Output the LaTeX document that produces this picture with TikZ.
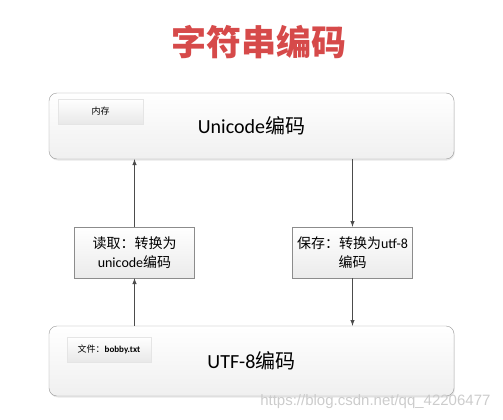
\documentclass[tikz,border=0pt]{standalone}
\usepackage{fontspec}
\setmainfont{Carlito}
\newfontfamily\cjk{Noto Sans CJK SC}
\newfontfamily\wmfont{Liberation Sans}
\usepackage{tikz}
\usetikzlibrary{shadows}
\definecolor{titlered}{RGB}{214,74,74}

\begin{document}
\begin{tikzpicture}[x=1pt,y=-1pt,
    bigbox/.style={draw=black!40,rounded corners=8pt,top color=white,bottom color=black!6,
        minimum width=405pt,font=\fontsize{20}{24}\selectfont,
        drop shadow={opacity=0.18,shadow xshift=0.8pt,shadow yshift=-1.5pt}},
    tagbox/.style={draw=black!10,top color=white,bottom color=black!9,inner sep=0pt,
        minimum height=25pt,font=\fontsize{9}{11}\selectfont},
    convbox/.style={draw=black!45,top color=white,bottom color=black!8,minimum width=120pt,
        minimum height=51pt,align=center,font=\fontsize{14}{19}\selectfont},
    link/.style={draw=black!70,line width=1pt,-latex}]
    \useasboundingbox (0,0) rectangle (503,420);
    % title
    \node[text=titlered,font=\fontsize{35}{40}\selectfont] (title) at (259,42) {\cjk\bfseries 字符串编码};
    % memory and file
    \node[bigbox,minimum height=66pt] (mem) at (251.5,126) {Unicode{\cjk 编码}};
    \node[tagbox,minimum width=85pt] (memtag) at (100.5,111.5) {\cjk 内存};
    \node[bigbox,minimum height=70pt] (file) at (251.5,361) {UTF-8{\cjk 编码}};
    \node[tagbox,minimum width=84pt] (filetag) at (109,349.5) {{\cjk 文件：}\textbf{bobby.txt}};
    % conversions
    \node[convbox] (load) at (134.5,252.5) {{\cjk 读取：转换为}\\unicode{\cjk 编码}};
    \node[convbox] (save) at (352.5,252.5) {{\cjk 保存：转换为}utf-8\\{\cjk 编码}};
    \draw[link] (file.north -| load.south) -- (load.south);
    \draw[link] (load.north) -- (load.north |- mem.south);
    \draw[link] (mem.south -| save.north) -- (save.north);
    \draw[link] (save.south) -- (save.south |- file.north);
    % watermark
    \node[anchor=east,text=black!20,font=\wmfont\fontsize{15}{18}\selectfont] (mark) at (494,402) {https://blog.csdn.net/qq\_42206477};
\end{tikzpicture}
\end{document}
